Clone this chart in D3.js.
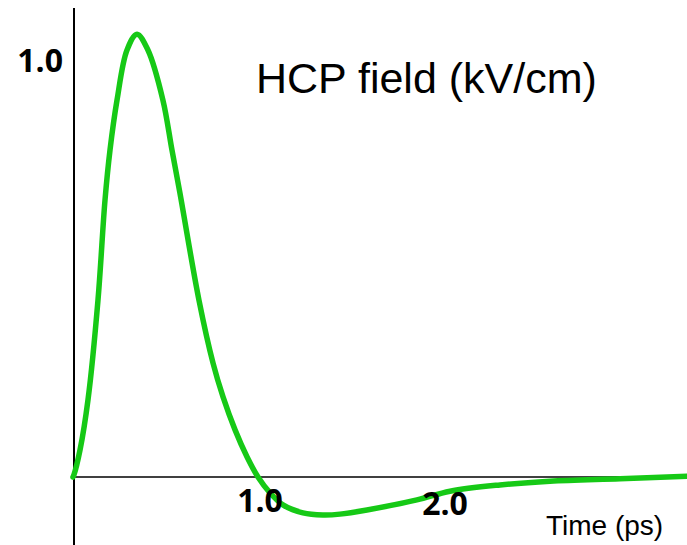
<!DOCTYPE html>
<html>
<head>
<meta charset="utf-8">
<script src="https://cdn.jsdelivr.net/npm/d3@7"></script>
<style>
  body { margin: 0; background: #fff; }
  svg { display: block; }
</style>
</head>
<body>
<svg id="chart" width="687" height="545"></svg>
<script>
// pulse shape (time in ps, field normalised to peak ~1)
var times  = [0, 0.005, 0.038, 0.081, 0.135, 0.173, 0.2, 0.238, 0.292, 0.346,
              0.405, 0.486, 0.535, 0.578, 0.681, 0.757, 0.811, 0.876,
              0.941, 1.0, 1.065, 1.135, 1.243, 1.351, 1.443, 1.589, 1.859,
              2.038, 2.308, 2.578, 2.957, 3.319];
var field  = [0, 0.005, 0.065, 0.185, 0.424, 0.664, 0.784, 0.904, 1.024, 1.062,
              1.024, 0.904, 0.784, 0.681, 0.424, 0.273, 0.192, 0.113,
              0.048, 0, -0.038, -0.067, -0.086, -0.091, -0.089, -0.079, -0.055,
              -0.034, -0.019, -0.010, -0.004, 0.002];
var xTicks = [1.0, 2.0];
var yTicks = [1.0];
var title = 'HCP field (kV/cm)';
var xTitle = 'Time (ps)';

var svg = d3.select('#chart');

// scales
var x = d3.scaleLinear().domain([0, 3.319]).range([73, 687]);
var y = d3.scaleLinear().domain([0, 1]).range([477, 60]);

var data = times.map(function(t, i) { return {t: t, v: field[i]}; });

// axes lines
svg.append('line')
  .attr('x1', 74).attr('x2', 74)
  .attr('y1', 8).attr('y2', 545)
  .attr('stroke', '#000').attr('stroke-width', 2);
svg.append('line')
  .attr('x1', 74).attr('x2', 687)
  .attr('y1', y(0)).attr('y2', y(0))
  .attr('stroke', '#000').attr('stroke-width', 1.5);

// the pulse
var line = d3.line()
  .x(function(d) { return x(d.t); })
  .y(function(d) { return y(d.v); })
  .curve(d3.curveCatmullRom.alpha(0.5));
svg.append('path')
  .datum(data)
  .attr('d', line)
  .attr('fill', 'none')
  .attr('stroke', '#16c916')
  .attr('stroke-width', 5.5)
  .attr('stroke-linecap', 'round');

// tick labels
svg.selectAll('.ytick')
  .data(yTicks)
  .enter().append('text')
  .attr('class', 'ytick')
  .attr('x', 63)
  .attr('y', function(d) { return y(d) + 12; })
  .attr('text-anchor', 'end')
  .style('font-family', '"Open Sans", sans-serif')
  .style('font-weight', 'bold')
  .style('font-size', '32px')
  .text(function(d) { return d.toFixed(1); });

svg.selectAll('.xtick')
  .data(xTicks)
  .enter().append('text')
  .attr('class', 'xtick')
  .attr('x', function(d) { return x(d) + 2; })
  .attr('y', function(d, i) { return i == 0 ? 512 : 515; })
  .attr('text-anchor', 'middle')
  .style('font-family', '"Open Sans", sans-serif')
  .style('font-weight', 'bold')
  .style('font-size', '32px')
  .text(function(d) { return d.toFixed(1); });

// titles
svg.append('text')
  .attr('x', 256).attr('y', 93)
  .style('font-family', '"Liberation Sans", Arial, sans-serif')
  .style('font-size', '43px')
  .text(title);
svg.append('text')
  .attr('x', 546).attr('y', 535)
  .style('font-family', '"Liberation Sans", Arial, sans-serif')
  .style('font-size', '28px')
  .text(xTitle);
</script>
</body>
</html>
